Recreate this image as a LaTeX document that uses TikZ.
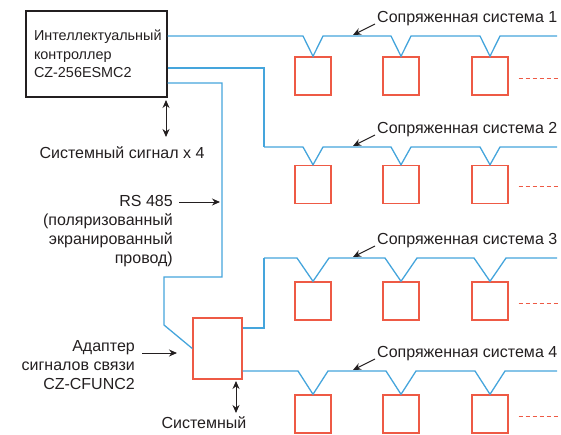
\documentclass[tikz,border=0pt]{standalone}
\usepackage{fontspec}
\setmainfont{Liberation Sans}
\usepackage{tikz}
\usetikzlibrary{arrows.meta,positioning,calc}
\definecolor{BusBlue}{HTML}{45A5DC}
\definecolor{UnitRed}{HTML}{EE5A45}
\definecolor{InkGray}{HTML}{231F20}

\begin{document}
\begin{tikzpicture}[x=1pt, y=-1pt, font=\fontsize{16}{19}\selectfont, text=InkGray,
  ctrlbox/.style={draw=InkGray, line width=1.2pt, minimum width=141pt, minimum height=86pt,
                  text width=125pt, align=left, inner sep=0pt, font=\fontsize{14.4}{18.5}\selectfont},
  unit/.style={draw=UnitRed, line width=1.4pt, minimum width=36pt, minimum height=38pt, inner sep=0pt},
  bus/.style={BusBlue, line width=1.3pt},
  lbl/.style={inner sep=0pt, align=right},
  ptr/.style={-{Stealth[length=8pt,width=7pt]}, line width=1pt, InkGray},
  dbl/.style={{Stealth[length=8pt,width=7pt]}-{Stealth[length=8pt,width=7pt]}, line width=1pt, InkGray},
  dots/.style={UnitRed, line width=1pt, dash pattern=on 4pt off 3pt}]
\useasboundingbox (0,0) rectangle (561,434);

% controller and adapter
\node[ctrlbox] (ctrl) at (96.5,54) {Интеллектуальный\\контроллер\\CZ-256ESMC2};
\node[unit, minimum width=49pt, minimum height=61pt] (adp) at (217.5,348.5) {};

% start and corner points of the buses
\coordinate (s1) at (ctrl.east |- 0,36);
\coordinate (s2) at (264,147);
\coordinate (s3) at (264,258);
\coordinate (s4) at (adp.east |- 0,371);
\draw[bus] (ctrl.east |- 0,68) -| (s2);
\draw[bus] (adp.east |- 0,328) -| (s3);

% RS 485 line from controller to adapter
\coordinate (k1) at (222,277);
\coordinate (k2) at (164,325);
\draw[bus] (ctrl.east |- 0,83) -| (k1) -| (k2) -- (adp.west);

% the four coupled systems
\foreach \i/\L/\B/\h in {1/36/76/10, 2/147/184.5/10, 3/258/301/16, 4/371/414/15}{
  \node[unit] (u\i1) at (313,\B) {};
  \node[unit] (u\i2) at (401,\B) {};
  \node[unit] (u\i3) at (490,\B) {};
  \coordinate (e\i) at (557,\L);
  \draw[bus] (s\i) -- ([xshift=-\h pt]u\i1.north |- s\i) -- (u\i1.north) -- ([xshift=\h pt]u\i1.north |- s\i)
    -- ([xshift=-\h pt]u\i2.north |- s\i) -- (u\i2.north) -- ([xshift=\h pt]u\i2.north |- s\i)
    -- ([xshift=-\h pt]u\i3.north |- s\i) -- (u\i3.north) -- ([xshift=\h pt]u\i3.north |- s\i) -- (e\i);
  \draw[dots] ([xshift=10pt,yshift=-2pt]u\i3.east) -- ++(40,0);
  \node[lbl, anchor=west] (t\i) at (377,\L-17) {Сопряженная система \i};
  \draw[ptr] ([xshift=-2pt,yshift=-5pt]t\i.west) -- (353,\L-1);
}

% labels with arrows
\node[lbl] (sig) at (122,153) {Системный сигнал x 4};
\draw[dbl] (166,100) -- (166,137);
\node[lbl, anchor=north east] (rs) at (173,195) {RS 485\\(поляризованный\\экранированный\\провод)};
\draw[ptr] ([xshift=6pt,yshift=-7pt]rs.north east) -- (220,202);
\node[lbl, anchor=north east] (adl) at (135,340) {Адаптер\\сигналов связи\\CZ-CFUNC2};
\draw[ptr] (142,353) -- (177,353);
\node[lbl] (sys) at (204,423) {Системный};
\draw[dbl] (236,381) -- (236,413);
\end{tikzpicture}
\end{document}
